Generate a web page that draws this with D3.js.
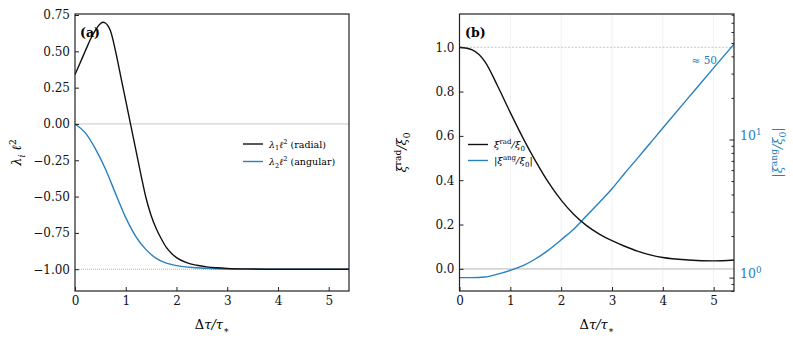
<!DOCTYPE html>
<html lang="en">
  <head>
    <meta charset="utf-8" />
    <title>Eigenvalues and xi ratios</title>
    <script src="https://d3js.org/d3.v7.js"></script>
    <style>
      body { margin: 0; background: #fff; }
      text { font-family: "DejaVu Serif", serif; }
    </style>
  </head>
  <body>
    <script>

    // data
    var tauA = [0, 0.1, 0.2, 0.3, 0.4, 0.5, 0.55, 0.6, 0.65, 0.7, 0.8, 0.9, 1.0, 1.1, 1.2, 1.3, 1.4, 1.5, 1.6, 1.7, 1.8, 1.9, 2.0, 2.2, 2.4, 2.6, 2.8, 3.0, 3.4, 4.0, 5.4];
    var lambdaRadial = [0.34, 0.42, 0.50, 0.58, 0.645, 0.69, 0.70, 0.695, 0.675, 0.64, 0.50, 0.33, 0.16, -0.01, -0.18, -0.35, -0.51, -0.63, -0.72, -0.79, -0.85, -0.89, -0.92, -0.955, -0.973, -0.984, -0.99, -0.994, -0.998, -1.0, -1.0];

    var tauA2 = [0, 0.2, 0.4, 0.6, 0.8, 1.0, 1.2, 1.4, 1.6, 1.8, 2.0, 2.4, 2.8, 3.2, 4.0, 5.4];
    var lambdaAngular = [0, -0.06, -0.17, -0.31, -0.48, -0.645, -0.775, -0.865, -0.925, -0.958, -0.975, -0.99, -0.997, -1.0, -1.0, -1.0];

    var tauB = [0, 0.25, 0.5, 0.75, 1.0, 1.25, 1.5, 1.75, 2.0, 2.25, 2.5, 2.75, 3.0, 3.25, 3.5, 3.75, 4.0, 4.5, 5.0, 5.4];
    var xiRad = [1.0, 0.988, 0.935, 0.825, 0.705, 0.59, 0.485, 0.39, 0.31, 0.245, 0.195, 0.157, 0.127, 0.102, 0.08, 0.063, 0.051, 0.04, 0.036, 0.04];
    var xiAng = [1.0, 1.0, 1.01, 1.06, 1.13, 1.22, 1.37, 1.58, 1.88, 2.25, 2.8, 3.5, 4.4, 5.7, 7.3, 9.4, 12.1, 20, 33, 49];

    var xTicks = [0, 1, 2, 3, 4, 5];
    var yTicksA = [0.75, 0.5, 0.25, 0, -0.25, -0.5, -0.75, -1.0];
    var yTicksB = [0, 0.2, 0.4, 0.6, 0.8, 1.0];
    var logMajor = [1, 10];
    var logMinor = [0.8, 0.9, 2, 3, 4, 5, 6, 7, 8, 9, 20, 30, 40, 50, 60, 70, 80];

    var black = "#111";
    var blue = "#2680c2";
    var plotTop = 14, plotBottom = 291;

    var svg = d3.select("body").append("svg")
      .attr("width", 793)
      .attr("height", 339);

    // helper for little math labels: segments of text with sub / sup / italic
    function mathText(sel, parts, size) {
      sel.attr("font-size", size);
      var cur = 0;
      parts.forEach(function (p) {
        var small = p.sub || p.sup;
        var shift = p.sub ? size * 0.3 : (p.sup ? -size * 0.4 : 0);
        sel.append("tspan")
          .attr("dy", shift - cur)
          .attr("font-size", small ? size * 0.7 : size)
          .attr("font-style", p.i ? "italic" : "normal")
          .text(p.t);
        cur = shift;
      });
      return sel;
    }

    var dTau = [{t: "\u0394"}, {t: "\u03c4/\u03c4", i: true}, {t: "\u2217", sub: true}];

    function fmt(d) {
      return d3.format(".2f")(d).replace("-", "\u2212");
    }

    // ---------- panel (a) ----------
    var xA = d3.scaleLinear().domain([0, 5.4]).range([75, 349]);
    var yA = d3.scaleLinear().domain([-1.15, 0.757]).range([plotBottom, plotTop]);

    var gA = svg.append("g");

    gA.append("line")
      .attr("x1", xA(0)).attr("x2", xA(5.4))
      .attr("y1", yA(0)).attr("y2", yA(0))
      .attr("stroke", "#c8c8c8").attr("stroke-width", 1);
    gA.append("line")
      .attr("x1", xA(0)).attr("x2", xA(5.4))
      .attr("y1", yA(-1)).attr("y2", yA(-1))
      .attr("stroke", "#999").attr("stroke-width", 0.8)
      .attr("stroke-dasharray", "1,1");

    var lineA = d3.line().curve(d3.curveMonotoneX);
    gA.append("path")
      .attr("d", lineA(tauA2.map((t, i) => [xA(t), yA(lambdaAngular[i])])))
      .attr("fill", "none").attr("stroke", blue).attr("stroke-width", 1.4);
    gA.append("path")
      .attr("d", lineA(tauA.map((t, i) => [xA(t), yA(lambdaRadial[i])])))
      .attr("fill", "none").attr("stroke", black).attr("stroke-width", 1.4);

    gA.append("g").attr("transform", `translate(0,${plotBottom})`)
      .call(d3.axisBottom(xA).tickValues(xTicks).tickSize(-4).tickPadding(5).tickFormat(d3.format("d")));
    gA.append("g").attr("transform", `translate(${xA(0)},0)`)
      .call(d3.axisLeft(yA).tickValues(yTicksA).tickSize(-4).tickPadding(5).tickFormat(fmt));

    gA.append("rect")
      .attr("x", xA(0)).attr("y", plotTop)
      .attr("width", xA(5.4) - xA(0)).attr("height", plotBottom - plotTop)
      .attr("fill", "none").attr("stroke", "#222").attr("stroke-width", 1.2);

    gA.append("text").attr("x", 80).attr("y", 37)
      .attr("font-size", 12.5).attr("font-weight", "bold").text("(a)");

    // legend (a)
    var legA = [
      {c: black, parts: [{t: "\u03bb", i: true}, {t: "1", sub: true}, {t: "\u2113", i: true}, {t: "2", sup: true}, {t: " (radial)"}]},
      {c: blue, parts: [{t: "\u03bb", i: true}, {t: "2", sub: true}, {t: "\u2113", i: true}, {t: "2", sup: true}, {t: " (angular)"}]}
    ];
    legA.forEach(function (d, i) {
      var y = 144 + i * 17.5;
      gA.append("line").attr("x1", 243).attr("x2", 263).attr("y1", y).attr("y2", y)
        .attr("stroke", d.c).attr("stroke-width", 1.4);
      mathText(gA.append("text").attr("x", 269).attr("y", y + 3.5), d.parts, 9.5);
    });

    gA.append("text").attr("text-anchor", "middle")
      .attr("transform", `translate(${(xA(0) + xA(5.4)) / 2},329)`)
      .call(s => mathText(s, dTau, 13));

    gA.append("text").attr("text-anchor", "middle")
      .attr("transform", `translate(21,${(plotTop + plotBottom) / 2}) rotate(-90)`)
      .call(s => mathText(s, [{t: "\u03bb", i: true}, {t: "i", sub: true, i: true}, {t: " \u2113", i: true}, {t: "2", sup: true}], 13));

    // ---------- panel (b) ----------
    var xB = d3.scaleLinear().domain([0, 5.4]).range([459.5, 734]);
    var yB = d3.scaleLinear().domain([-0.1, 1.15]).range([plotBottom, plotTop]);
    var yR = d3.scaleLog().domain([0.8, 81]).range([plotBottom, plotTop]);

    var gB = svg.append("g");

    gB.selectAll(".vgrid").data(xTicks.slice(1)).join("line")
      .attr("x1", d => xB(d)).attr("x2", d => xB(d))
      .attr("y1", plotTop).attr("y2", plotBottom)
      .attr("stroke", "#ececec").attr("stroke-width", 0.8);

    gB.append("line")
      .attr("x1", xB(0)).attr("x2", xB(5.4))
      .attr("y1", yB(0)).attr("y2", yB(0))
      .attr("stroke", "#d4d4d4").attr("stroke-width", 1.8);
    gB.append("line")
      .attr("x1", xB(0)).attr("x2", xB(5.4))
      .attr("y1", yB(1)).attr("y2", yB(1))
      .attr("stroke", "#aaa").attr("stroke-width", 0.7)
      .attr("stroke-dasharray", "2,1.5");

    var lineB = d3.line().curve(d3.curveMonotoneX);
    gB.append("path")
      .attr("d", lineB(tauB.map((t, i) => [xB(t), yR(xiAng[i])])))
      .attr("fill", "none").attr("stroke", blue).attr("stroke-width", 1.4);
    gB.append("path")
      .attr("d", lineB(tauB.map((t, i) => [xB(t), yB(xiRad[i])])))
      .attr("fill", "none").attr("stroke", black).attr("stroke-width", 1.4);

    gB.append("g").attr("transform", `translate(0,${plotBottom})`)
      .call(d3.axisBottom(xB).tickValues(xTicks).tickSize(-4).tickPadding(5).tickFormat(d3.format("d")));
    gB.append("g").attr("transform", `translate(${xB(0)},0)`)
      .call(d3.axisLeft(yB).tickValues(yTicksB).tickSize(-4).tickPadding(5).tickFormat(d3.format(".1f")));

    // right log axis: minor ticks, then major ticks with 10^n labels
    var arMin = gB.append("g").attr("transform", `translate(${xB(5.4)},0)`)
      .call(d3.axisRight(yR).tickValues(logMinor).tickSize(-2.5).tickFormat(""));
    var arMaj = gB.append("g").attr("transform", `translate(${xB(5.4)},0)`)
      .call(d3.axisRight(yR).tickValues(logMajor).tickSize(-4.5).tickFormat(""));
    arMin.selectAll(".tick text").remove();
    arMaj.selectAll(".tick text").remove();

    svg.selectAll(".domain").remove();
    svg.selectAll(".tick line").attr("stroke", "#222");
    svg.selectAll(".tick text").attr("font-size", 12).attr("font-family", "DejaVu Serif").attr("fill", "#111");

    arMaj.selectAll(".tick").each(function (d) {
      var t = d3.select(this).append("text")
        .attr("x", 6).attr("dy", "0.4em")
        .attr("fill", blue).attr("text-anchor", "start");
      mathText(t, [{t: "10"}, {t: String(Math.round(Math.log10(d))), sup: true}], 12.5);
    });

    gB.append("rect")
      .attr("x", xB(0)).attr("y", plotTop)
      .attr("width", xB(5.4) - xB(0)).attr("height", plotBottom - plotTop)
      .attr("fill", "none").attr("stroke", "#222").attr("stroke-width", 1.2);

    gB.append("text").attr("x", 465).attr("y", 37)
      .attr("font-size", 12.5).attr("font-weight", "bold").text("(b)");

    gB.append("text").attr("x", 717).attr("y", 64).attr("text-anchor", "end")
      .attr("font-size", 10.5).attr("fill", blue).text("\u2248 50");

    var legB = [
      {c: black, parts: [{t: "\u03be", i: true}, {t: "rad", sup: true}, {t: "/\u03be", i: true}, {t: "0", sub: true}]},
      {c: blue, parts: [{t: "|\u03be", i: true}, {t: "ang", sup: true}, {t: "/\u03be", i: true}, {t: "0", sub: true}, {t: "|"}]}
    ];
    legB.forEach(function (d, i) {
      var y = 144.5 + i * 16;
      gB.append("line").attr("x1", 468).attr("x2", 488).attr("y1", y).attr("y2", y)
        .attr("stroke", d.c).attr("stroke-width", 1.4);
      mathText(gB.append("text").attr("x", 494).attr("y", y + 3.5), d.parts, 10);
    });

    gB.append("text").attr("text-anchor", "middle")
      .attr("transform", `translate(${(xB(0) + xB(5.4)) / 2},329)`)
      .call(s => mathText(s, dTau, 13));

    gB.append("text").attr("text-anchor", "middle")
      .attr("transform", `translate(406,${(plotTop + plotBottom) / 2}) rotate(-90)`)
      .call(s => mathText(s, [{t: "\u03be", i: true}, {t: "rad", sup: true}, {t: "/\u03be", i: true}, {t: "0", sub: true}], 13));

    gB.append("text").attr("text-anchor", "middle").attr("fill", blue)
      .attr("transform", `translate(782,${(plotTop + plotBottom) / 2}) rotate(-90)`)
      .call(s => mathText(s, [{t: "|\u03be", i: true}, {t: "ang", sup: true}, {t: "/\u03be", i: true}, {t: "0", sub: true}, {t: "|"}], 13));

    </script>
  </body>
</html>
